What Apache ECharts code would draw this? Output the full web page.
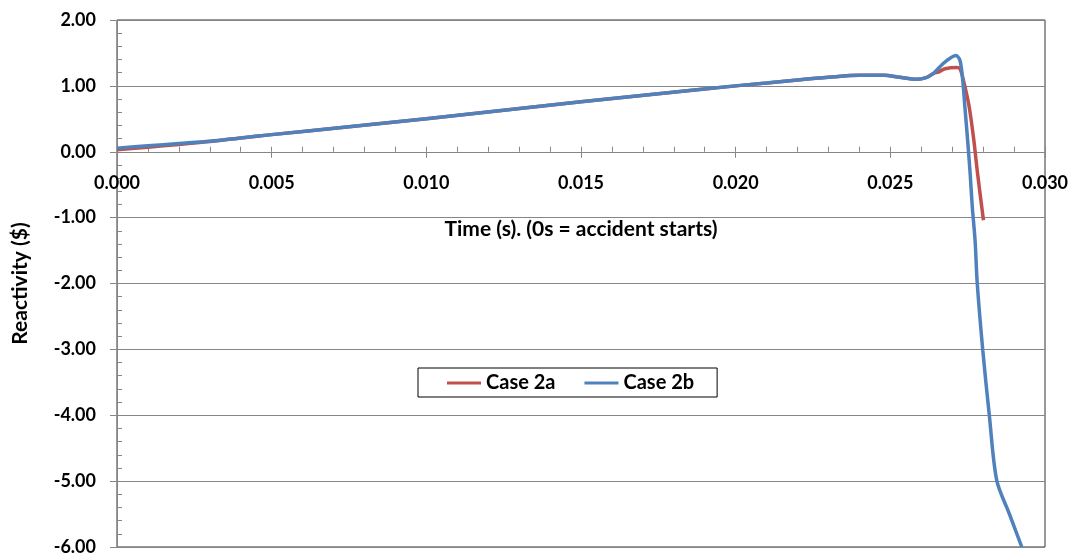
<!DOCTYPE html>
<html>
<head>
<meta charset="utf-8">
<script src="https://cdn.jsdelivr.net/npm/echarts@6/dist/echarts.min.js"></script>
<style>
  html, body { margin: 0; padding: 0; background: #ffffff; }
  #chart { width: 1075px; height: 558px; }
</style>
</head>
<body>
<div id="chart"></div>
<script>
// Reactivity ($) versus time (s) for the two accident cases
const seriesNames = ['Case 2a', 'Case 2b'];

const timeCase2a = [0, 0.001, 0.002, 0.003, 0.004, 0.005, 0.0075, 0.010, 0.0125, 0.015, 0.0175, 0.020,
  0.021, 0.022, 0.023, 0.024, 0.0248, 0.0253, 0.02585, 0.02618, 0.0264, 0.02655, 0.02677, 0.02714,
  0.02725, 0.02736, 0.02755, 0.0277, 0.02782, 0.02801];
const reactCase2a = [0.03, 0.07, 0.11, 0.155, 0.21, 0.26, 0.38, 0.50, 0.63, 0.76, 0.88, 1.00,
  1.045, 1.09, 1.13, 1.16, 1.16, 1.13, 1.10, 1.13, 1.19, 1.21, 1.26, 1.28,
  1.26, 1.09, 0.68, 0.17, -0.33, -1.04];

const timeCase2b = [0, 0.001, 0.002, 0.003, 0.004, 0.005, 0.0075, 0.010, 0.0125, 0.015, 0.0175, 0.020,
  0.021, 0.022, 0.023, 0.024, 0.0248, 0.0253, 0.02585, 0.02618, 0.0264, 0.02644, 0.02671, 0.02693,
  0.02712, 0.02725, 0.02734, 0.02741, 0.0275, 0.02758, 0.02765, 0.02774, 0.02781, 0.02799, 0.0282,
  0.02844, 0.02885, 0.02925];
const reactCase2b = [0.055, 0.09, 0.125, 0.16, 0.21, 0.26, 0.38, 0.50, 0.63, 0.76, 0.88, 1.00,
  1.045, 1.09, 1.13, 1.16, 1.16, 1.13, 1.10, 1.13, 1.19, 1.21, 1.34, 1.42,
  1.46, 1.39, 1.09, 0.68, 0.17, -0.33, -0.84, -1.35, -2.0, -3.02, -4.0,
  -4.99, -5.5, -6.0];

const xTicks = [0, 0.005, 0.010, 0.015, 0.020, 0.025, 0.030];
const yTicks = [-6, -5, -4, -3, -2, -1, 0, 1, 2];

const xTitle = 'Time (s). (0s = accident starts)';
const yTitle = 'Reactivity ($)';

const pairs = (xs, ys) => xs.map((x, i) => [x, ys[i]]);

const W = 1075, H = 558;
const FONT = 'Lato, "Liberation Sans", sans-serif';
const AXIS_GRAY = '#868686';
const labelStyle = { color: '#000', fontFamily: FONT, fontWeight: 'bold', fontSize: 18 };
const titleStyle = { color: '#000', fontFamily: FONT, fontWeight: 'bold', fontSize: 21 };
const colors = ['#C0504D', '#4F81BD'];

const xMin = xTicks[0], xMax = xTicks[xTicks.length - 1], xStep = xTicks[1] - xTicks[0];
const yMin = yTicks[0], yMax = yTicks[yTicks.length - 1], yStep = yTicks[1] - yTicks[0];

const GRID = { left: 117, right: 30, top: 20, bottom: 11 };
const plotH = H - GRID.top - GRID.bottom;
// shift the time axis up from the plot bottom to the value 0 line
const zeroOffset = -plotH * (0 - yMin) / (yMax - yMin);

const chart = echarts.init(document.getElementById('chart'), null, { renderer: 'canvas' });

const timeAxisBase = {
  type: 'value', min: xMin, max: xMax, interval: xStep, position: 'bottom',
  offset: zeroOffset,
  axisLine: { show: true, onZero: false, lineStyle: { color: AXIS_GRAY, width: 1 } },
  splitLine: { show: false }
};

chart.setOption({
  backgroundColor: '#ffffff',
  animation: false,
  title: {
    text: xTitle,
    left: GRID.left + (W - GRID.left - GRID.right) / 2,
    textAlign: 'center',
    top: 217,
    padding: 0,
    textStyle: Object.assign({}, titleStyle, { lineHeight: 24 })
  },
  grid: Object.assign({
    outerBoundsMode: 'none', containLabel: false,
    show: true, borderColor: '#333333', borderWidth: 1, backgroundColor: 'transparent'
  }, GRID),
  legend: {
    data: seriesNames.map(n => ({ name: n, icon: 'rect' })),
    left: 418, top: 368,
    orient: 'horizontal',
    itemWidth: 34, itemHeight: 3, itemGap: 29,
    padding: [5, 23, 4, 29],
    borderColor: '#000', borderWidth: 1, backgroundColor: '#fff',
    textStyle: { color: '#000', fontFamily: FONT, fontWeight: 'bold', fontSize: 20, lineHeight: 20 }
  },
  xAxis: [
    // time axis on the zero line: outer major ticks and labels
    Object.assign({}, timeAxisBase, {
      axisTick: { show: true, length: 6, lineStyle: { color: AXIS_GRAY } },
      axisLabel: Object.assign({ show: true, margin: 22, formatter: v => v.toFixed(3) }, labelStyle)
    }),
    // inner major and minor ticks on the same line
    Object.assign({}, timeAxisBase, {
      axisTick: { show: true, inside: true, length: 5, lineStyle: { color: AXIS_GRAY } },
      minorTick: { show: true, splitNumber: 5, length: 5, lineStyle: { color: AXIS_GRAY } },
      axisLabel: { show: false }
    })
  ],
  yAxis: [
    {
      type: 'value', min: yMin, max: yMax, interval: yStep, position: 'left',
      axisLine: { show: true, onZero: false, lineStyle: { color: AXIS_GRAY, width: 1 } },
      axisTick: { show: true, length: 7, lineStyle: { color: AXIS_GRAY } },
      axisLabel: Object.assign({ margin: 21, formatter: v => v.toFixed(2) }, labelStyle),
      splitLine: { show: true, lineStyle: { color: AXIS_GRAY, width: 1 } },
      name: yTitle, nameLocation: 'middle', nameGap: 86, nameRotate: 90,
      nameTextStyle: titleStyle
    },
    {
      type: 'value', min: yMin, max: yMax, interval: yStep, position: 'left',
      axisLine: { show: false, onZero: false },
      axisTick: { show: false, inside: true },
      minorTick: { show: true, splitNumber: 5, length: 5, lineStyle: { color: AXIS_GRAY } },
      axisLabel: { show: false },
      splitLine: { show: false }
    }
  ],
  series: seriesNames.map((name, i) => ({
    name: name, type: 'line', xAxisIndex: 0, yAxisIndex: 0,
    data: i === 0 ? pairs(timeCase2a, reactCase2a) : pairs(timeCase2b, reactCase2b),
    symbol: 'none', smooth: 0.3,
    lineStyle: { color: colors[i], width: 3.5 },
    itemStyle: { color: colors[i] }
  }))
});
</script>
</body>
</html>
